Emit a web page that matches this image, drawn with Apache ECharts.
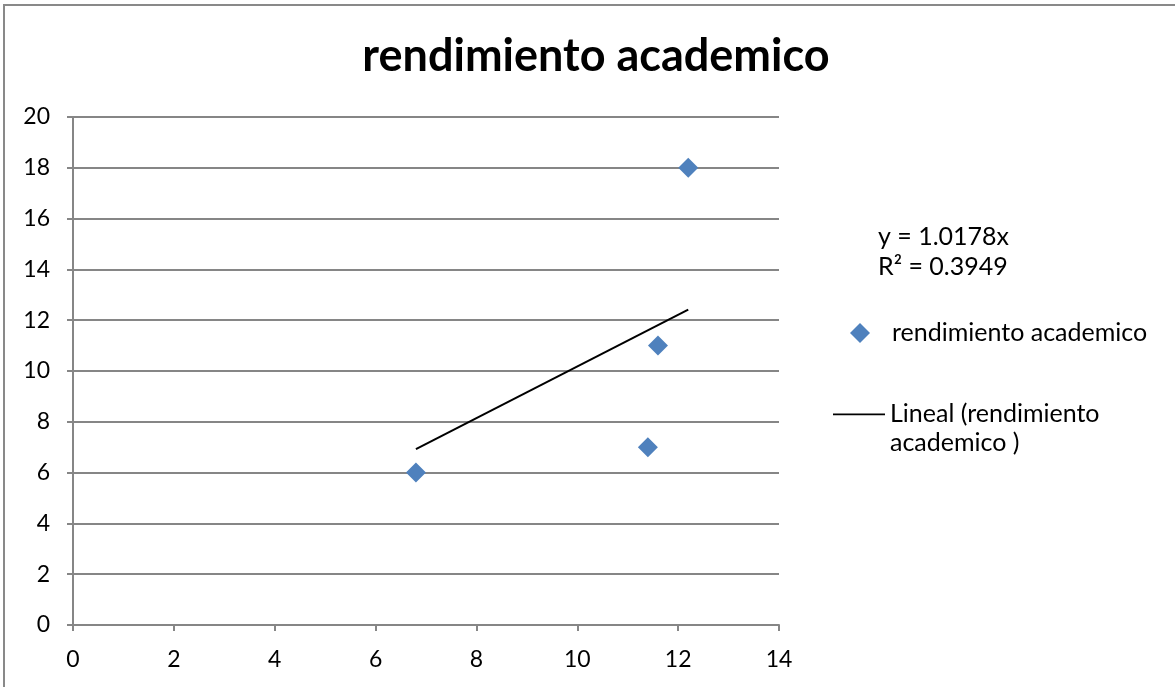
<!DOCTYPE html>
<html>
<head>
<meta charset="utf-8">
<script src="https://cdn.jsdelivr.net/npm/echarts@6/dist/echarts.min.js"></script>
<style>
  html, body { margin: 0; padding: 0; background: #fff; }
  #frame { position: absolute; left: 3px; top: 4px; width: 1180px; height: 700px; border: 2px solid #898989; box-sizing: border-box; }
  #chart { position: absolute; left: 0; top: 0; width: 1175px; height: 687px; }
</style>
</head>
<body>
<div id="frame"></div>
<div id="chart"></div>
<script>
const titleText = 'rendimiento academico';
const seriesName = 'rendimiento academico';
const trendName = 'Lineal (rendimiento academico )';
const xValues = [6.8, 11.4, 11.6, 12.2];
const yValues = [6, 7, 11, 18];
const trendX = [6.8, 12.2];
const trendY = [6.92, 12.42];
const equationLines = ['y = 1.0178x', 'R² = 0.3949'];

const FONT = 'Lato';
const chart = echarts.init(document.getElementById('chart'));
chart.setOption({
  animation: false,
  backgroundColor: 'transparent',
  textStyle: { fontFamily: FONT },
  title: {
    text: titleText,
    left: 591, textAlign: 'center',
    top: 29,
    textStyle: { fontFamily: FONT, fontWeight: 'bold', fontSize: 45, color: '#000' }
  },
  grid: { left: 73, right: 396, top: 117, bottom: 62, containLabel: false },
  xAxis: {
    type: 'value', min: 0, max: 14, interval: 2,
    axisLine: { show: true, lineStyle: { color: '#868686', width: 2 } },
    axisTick: { show: true, inside: false, length: 6, lineStyle: { color: '#868686', width: 2 } },
    axisLabel: { margin: 23, fontSize: 23, color: '#000', fontFamily: FONT },
    splitLine: { show: false }
  },
  yAxis: {
    type: 'value', min: 0, max: 20, interval: 2,
    axisLine: { show: true, lineStyle: { color: '#868686', width: 2 } },
    axisTick: { show: true, inside: false, length: 6, lineStyle: { color: '#868686', width: 2 } },
    axisLabel: { margin: 23, fontSize: 23, color: '#000', fontFamily: FONT },
    splitLine: { show: true, lineStyle: { color: '#868686', width: 2 } }
  },
  legend: [
    {
      data: [{ name: seriesName, icon: 'diamond', itemStyle: { color: '#4F81BD', opacity: 1 } }],
      orient: 'vertical', left: 850, top: 318, padding: 0,
      itemWidth: 20, itemHeight: 20, itemGap: 0,
      textStyle: { fontSize: 25, lineHeight: 30, color: '#000', fontFamily: FONT, padding: [0, 0, 0, 17] },
      selectedMode: false
    },
    {
      data: [{ name: trendName, icon: 'path://M0,0 L52,0 L52,1.7 L0,1.7 Z M0,28.95 L0.01,28.95 L0.01,29 L0,29 Z' }],
      orient: 'vertical', left: 833, top: 399, padding: 0,
      itemWidth: 52, itemHeight: 29, itemGap: 0,
      formatter: function () { return 'Lineal (rendimiento\nacademico )'; },
      textStyle: { fontSize: 25, lineHeight: 29, color: '#000', fontFamily: FONT, padding: 0 },
      selectedMode: false
    }
  ],
  graphic: [
    {
      type: 'text', left: 878, top: 222,
      style: { text: equationLines.join('\n'), fontSize: 25, lineHeight: 30, fill: '#000', fontFamily: FONT }
    }
  ],
  series: [
    {
      name: seriesName, type: 'scatter', symbol: 'diamond', symbolSize: 20,
      itemStyle: { color: '#4F81BD', opacity: 1 },
      data: xValues.map((x, i) => [x, yValues[i]]),
      z: 3
    },
    {
      name: trendName, type: 'line', showSymbol: false, symbol: 'none',
      lineStyle: { color: '#000', width: 2 },
      itemStyle: { color: '#000' },
      data: trendX.map((x, i) => [x, trendY[i]]),
      z: 2
    }
  ]
});
</script>
</body>
</html>
